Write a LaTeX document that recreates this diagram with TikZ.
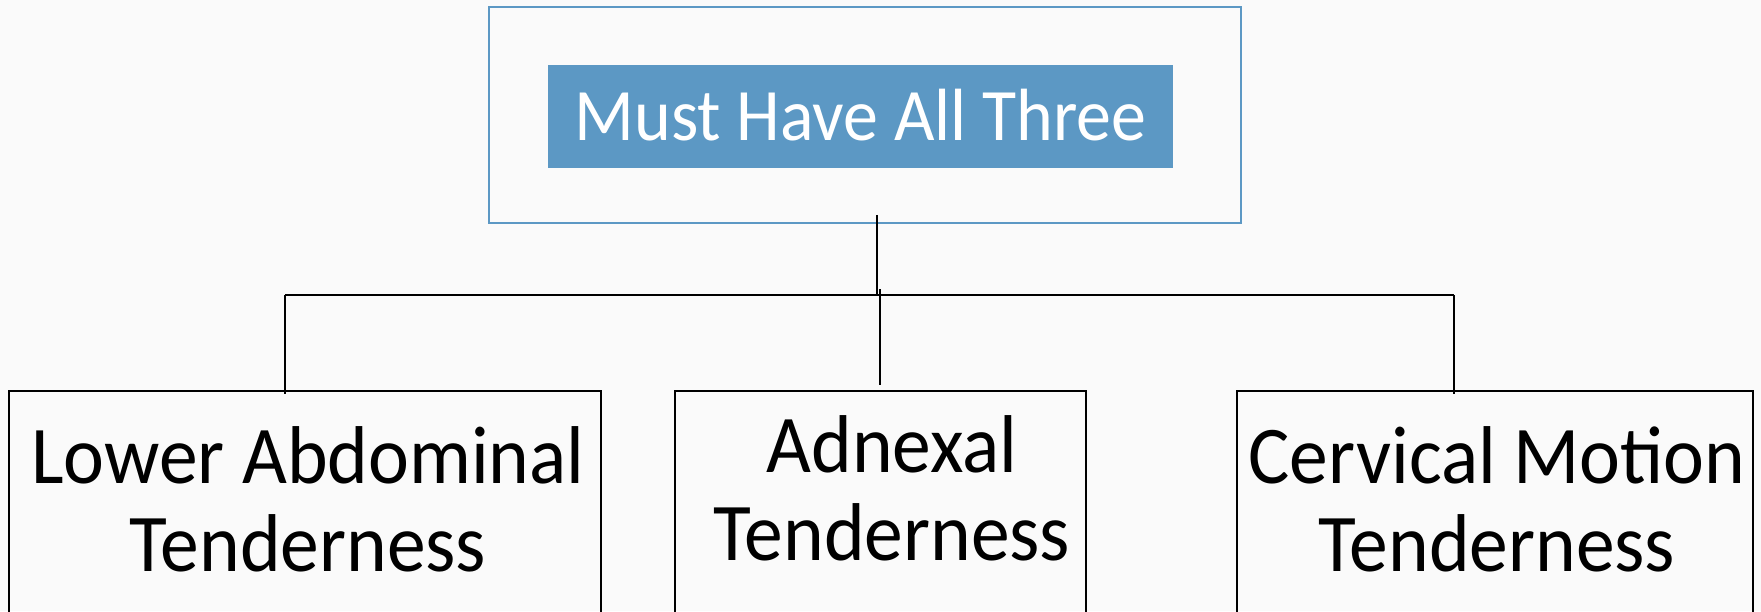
\documentclass[tikz,border=0pt]{standalone}
\usepackage{fontspec}
\setmainfont[FakeStretch=0.945]{Carlito}
\definecolor{pagebg}{RGB}{250,250,250}
\definecolor{hdrblue}{RGB}{92,152,196}
\begin{document}
\begin{tikzpicture}[x=1pt,y=-1pt,
  outerbox/.style={draw=hdrblue, line width=1.5pt, inner sep=0pt},
  hdrbox/.style={fill=hdrblue, text=white, inner sep=0pt,
    font=\fontsize{74}{80}\selectfont, text height=47pt, text depth=0pt},
  leafbox/.style={draw=black, line width=1.4pt, inner sep=0pt, minimum height=268pt},
  leaftext/.style={align=center, inner sep=0pt, font=\fontsize{82}{88}\selectfont},
  link/.style={draw=black, line width=1.4pt}]
\useasboundingbox (0,0) rectangle (1761,611);
\fill[pagebg] (0,0) rectangle (1761,611);
\clip (0,0) rectangle (1761,611);

% top group
\node[outerbox, minimum width=752pt, minimum height=216pt] (root) at (865,115) {};
\node[hdrbox, minimum width=625pt, minimum height=103pt] (hdr) at (860.5,116.5) {Must Have All Three};

% leaf boxes
\node[leafbox, minimum width=592pt] (b1) at (305,525) {};
\node[leafbox, minimum width=411pt] (b2) at (880.5,525) {};
\node[leafbox, minimum width=516pt] (b3) at (1495,525) {};

% two-line labels, placed by the baseline of their last line
\node[leaftext, anchor=base] (t1) at (308,571) {Lower Abdominal\\Tenderness};
\node[leaftext, anchor=base] (t2) at (892,560) {Adnexal\\Tenderness};
\node[leaftext, anchor=base] (t3) at (1497,571) {Cervical Motion\\Tenderness};

% connectors
\coordinate (jn) at (877,295);
\coordinate (bl) at (285,295);
\coordinate (br) at (1454,295);
\coordinate (bm) at (880,289);
\draw[link] ([xshift=12pt,yshift=9pt]root.south) -- (jn);
\draw[link] (bl) -- (br);
\draw[link] (bl) -- ([yshift=-4pt]bl |- b1.north);
\draw[link] (bm) -- ([yshift=5pt]bm |- b2.north);
\draw[link] (br) -- ([yshift=-4pt]br |- b3.north);
\end{tikzpicture}
\end{document}
